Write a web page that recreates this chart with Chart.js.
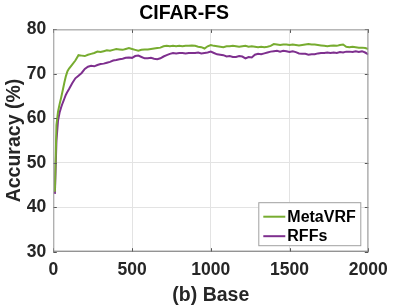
<!DOCTYPE html>
<html><head><meta charset="utf-8">
<script src="https://cdn.jsdelivr.net/npm/chart.js@4.4.1/dist/chart.umd.min.js"></script>
<style>html,body{margin:0;padding:0;background:#fff;overflow:hidden}canvas{display:block}</style>
</head><body>
<canvas id="c" width="407" height="305"></canvas>
<script>
const iterations = [10,20,30,40,50,60,70,80,90,100,
 120,140,160,180,200,220,240,260,280,300,320,340,360,380,400,420,440,460,480,500,
 520,540,560,580,600,620,640,660,680,700,720,740,760,780,800,820,840,860,880,900,
 920,940,960,980,1000,1020,1040,1060,1080,1100,1120,1140,1160,1180,1200,1220,1240,1260,1280,1300,
 1320,1340,1360,1380,1400,1420,1440,1460,1480,1500,1520,1540,1560,1580,1600,1620,1640,1660,1680,1700,
 1720,1740,1760,1780,1800,1820,1840,1860,1880,1900,1920,1940,1960,1980,2000];
const metaVRF = [43.5,58.5,61.5,63.2,64.7,66.3,68.0,69.5,70.6,71.2,
 72.1,73.0,74.2,74.1,74.0,74.3,74.5,74.7,75.0,74.9,75.1,75.3,75.2,75.4,75.6,75.5,75.4,75.6,75.8,75.6,
 75.4,75.2,75.4,75.5,75.5,75.6,75.7,75.8,75.9,76.2,76.3,76.2,76.3,76.2,76.3,76.2,76.3,76.3,76.4,76.3,
 76.1,76.0,75.7,76.2,76.5,76.3,76.2,76.1,76.0,76.2,76.2,76.3,76.2,76.1,76.2,76.3,76.1,76.2,76.1,76.0,
 76.1,76.0,76.1,76.3,76.7,76.6,76.5,76.6,76.6,76.5,76.6,76.5,76.4,76.5,76.6,76.7,76.6,76.6,76.5,76.4,
 76.3,76.2,76.3,76.4,76.3,76.5,76.6,76.1,76.0,76.1,76.0,75.9,75.9,75.8,75.6];
const rffs = [43.0,55.0,59.5,61.3,62.5,63.5,64.4,65.3,66.0,66.6,
 67.9,69.0,69.6,70.2,71.1,71.6,71.8,71.7,72.0,72.2,72.3,72.5,72.7,73.0,73.1,73.3,73.4,73.6,73.7,73.6,
 74.0,74.1,73.8,73.5,73.5,73.6,73.4,73.3,73.5,73.9,74.2,74.5,74.7,74.6,74.7,74.7,74.6,74.7,74.7,74.7,
 74.8,74.6,74.7,74.8,75.0,74.7,74.4,74.3,74.2,73.9,74.0,73.8,73.8,74.0,73.9,73.5,73.8,73.7,74.3,74.5,
 74.4,74.6,74.8,75.0,75.1,75.2,75.0,75.2,75.1,74.9,75.1,74.9,74.6,74.5,74.5,74.3,74.4,74.4,74.6,74.7,
 74.7,74.8,74.7,74.8,74.7,74.9,74.8,75.0,75.0,74.9,75.1,74.9,75.1,74.8,74.4];
const xTicks = [0,500,1000,1500,2000];
const yTicks = [30,40,50,60,70,80];
const seriesNames = ['MetaVRF','RFFs'];
const seriesColors = ['#77AC30','#7E2F8E'];

const FONT = "'Liberation Sans', Arial, Helvetica, sans-serif";
const TXT = '#262626';

const boxPlugin = {
  id: 'matlabBox',
  afterDatasetsDraw(chart) {
    const {ctx, chartArea: a, scales} = chart;
    ctx.save();
    ctx.strokeStyle = '#555';
    ctx.lineWidth = 1;
    const tl = 3.5;
    ctx.beginPath();
    xTicks.forEach(v => {
      const x = Math.round(scales.x.getPixelForValue(v)) + 0.5;
      ctx.moveTo(x, a.bottom); ctx.lineTo(x, a.bottom - tl);
      ctx.moveTo(x, a.top); ctx.lineTo(x, a.top + tl);
    });
    yTicks.forEach(v => {
      const y = Math.round(scales.y.getPixelForValue(v)) + 0.5;
      ctx.moveTo(a.left, y); ctx.lineTo(a.left + tl, y);
      ctx.moveTo(a.right, y); ctx.lineTo(a.right - tl, y);
    });
    ctx.stroke();
    ctx.strokeStyle = '#9a9a9a';
    ctx.beginPath();
    ctx.moveTo(a.left + 0.5, a.bottom); ctx.lineTo(a.left + 0.5, a.top + 0.5);
    ctx.lineTo(a.right - 0.5, a.top + 0.5); ctx.lineTo(a.right - 0.5, a.bottom);
    ctx.stroke();
    ctx.strokeStyle = '#707070';
    ctx.beginPath();
    ctx.moveTo(a.left, a.bottom - 0.5); ctx.lineTo(a.right, a.bottom - 0.5);
    ctx.stroke();
    const bw = 103, bh = 44;
    const bx = a.right - 7 - bw, by = a.bottom - 5.5 - bh;
    ctx.fillStyle = '#fff';
    ctx.fillRect(bx, by, bw, bh);
    ctx.strokeStyle = '#a0a0a0';
    ctx.strokeRect(bx + 0.5, by + 0.5, bw - 1, bh - 1);
    ctx.font = "bold 16px " + FONT;
    ctx.textBaseline = 'middle';
    ctx.textAlign = 'left';
    const rows = [by + 14.5, by + 34];
    chart.data.datasets.forEach((ds, i) => {
      ctx.strokeStyle = ds.borderColor;
      ctx.lineWidth = 2;
      ctx.beginPath();
      ctx.moveTo(bx + 5, rows[i]); ctx.lineTo(bx + 27, rows[i]);
      ctx.stroke();
      ctx.fillStyle = '#000';
      ctx.fillText(ds.label, bx + 29, rows[i] + 0.5);
    });
    ctx.restore();
  }
};

new Chart(document.getElementById('c'), {
  type: 'line',
  data: {
    datasets: [
      { label: seriesNames[0], data: iterations.map((x, i) => ({x, y: metaVRF[i]})),
        borderColor: seriesColors[0], borderWidth: 2, pointRadius: 0, tension: 0, fill: false },
      { label: seriesNames[1], data: iterations.map((x, i) => ({x, y: rffs[i]})),
        borderColor: seriesColors[1], borderWidth: 2, pointRadius: 0, tension: 0, fill: false }
    ]
  },
  options: {
    responsive: false,
    animation: false,
    events: [],
    layout: { padding: { left: 0, right: 38.7, top: 0, bottom: 0 } },
    plugins: {
      legend: { display: false },
      tooltip: { enabled: false },
      title: {
        display: true, text: 'CIFAR-FS', color: '#000',
        font: { family: FONT, size: 19.5, weight: 'bold', lineHeight: 1.2 },
        padding: { top: 2, bottom: 4 }
      }
    },
    scales: {
      x: {
        type: 'linear', min: 0, max: 2000,
        afterBuildTicks: s => { s.ticks = xTicks.map(v => ({ value: v })); },
        afterFit: s => { s.height = 53.3; },
        grid: { color: '#e3e3e3', drawTicks: false },
        border: { display: false },
        ticks: { color: TXT, padding: 8, maxRotation: 0, callback: v => String(v),
          font: { family: FONT, size: 17.5, weight: 'bold' } },
        title: { display: true, text: '(b) Base', color: TXT,
          font: { family: FONT, size: 19.5, weight: 'bold', lineHeight: 1 },
          padding: { top: 0, bottom: 0 } }
      },
      y: {
        type: 'linear', min: 30, max: 80,
        afterBuildTicks: s => { s.ticks = yTicks.map(v => ({ value: v })); },
        afterFit: s => { s.width = 53.3; },
        grid: { color: '#e3e3e3', drawTicks: false },
        border: { display: false },
        ticks: { color: TXT, padding: 7, callback: v => String(v),
          font: { family: FONT, size: 17.5, weight: 'bold' } },
        title: { display: true, text: 'Accuracy (%)', color: TXT,
          font: { family: FONT, size: 19.5, weight: 'bold', lineHeight: 1 },
          padding: { top: 5, bottom: 0 } }
      }
    }
  },
  plugins: [boxPlugin]
});
</script>
</body></html>
